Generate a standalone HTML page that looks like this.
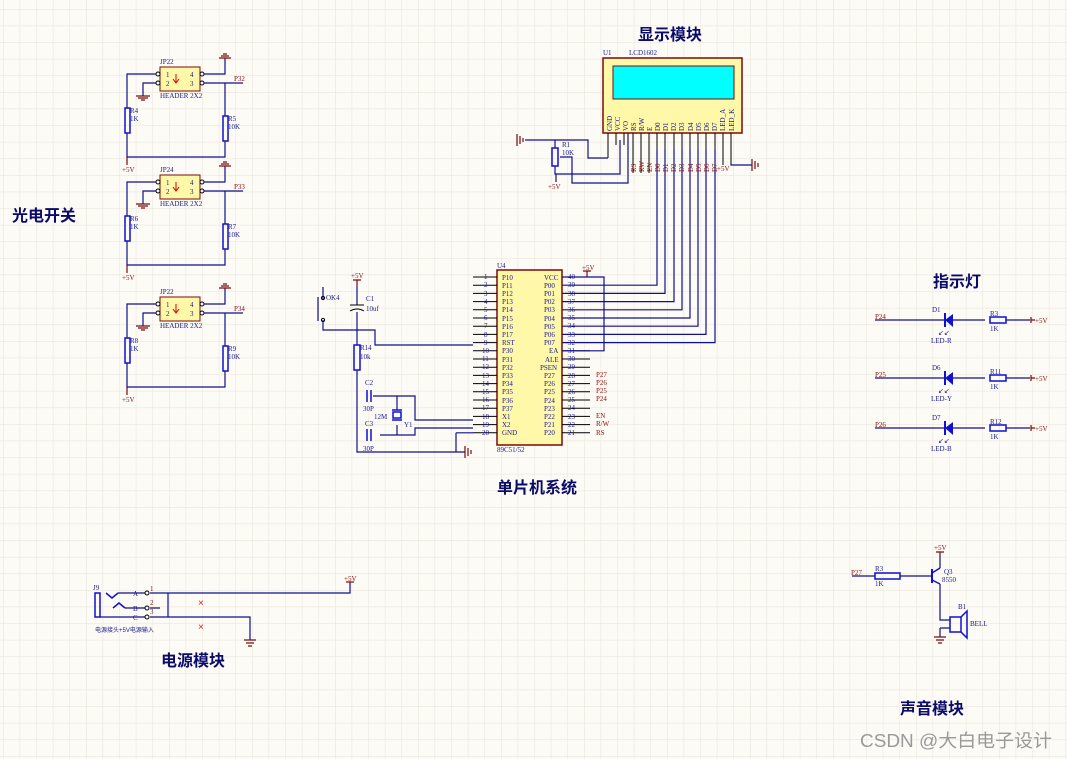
<!DOCTYPE html>
<html><head><meta charset="utf-8"><style>
html,body{margin:0;padding:0;background:#fdfbf6;}
svg{display:block}
.t{font-family:"Liberation Serif",serif;font-size:7px;fill:#1a1a8a}
.r{font-family:"Liberation Serif",serif;font-size:7px;fill:#8a1010}
.h{font-family:"Liberation Sans","Noto Sans CJK SC",sans-serif;font-size:16px;font-weight:bold;fill:#0a0a6a}
.w{stroke:#10108c;stroke-width:1.2;fill:none}
.k{stroke:#000;stroke-width:1;fill:none}
.g{stroke:#7a0a0a;stroke-width:1.2;fill:none}
.b{stroke:#1010d0;stroke-width:1.5;fill:none}
</style></head><body>
<svg width="1067" height="759" xmlns="http://www.w3.org/2000/svg">
<defs><pattern id="grid" x="3" y="9" width="16.6" height="16.6" patternUnits="userSpaceOnUse"><path d="M0 0H16.6M0 0V16.6" stroke="#e9e6dc" stroke-width="1.2"/></pattern>
<g id="blk">
<rect x="160" y="67" width="40" height="24" fill="#fff8a8" stroke="#7a0a0a"/>
<text class="t" x="166" y="77">1</text><text class="t" x="166" y="86">2</text>
<text class="t" x="190" y="77">4</text><text class="t" x="190" y="86">3</text>
<path d="M176 74v8M173 79l3 4 3-4" stroke="#d00" fill="none"/>
<circle cx="158" cy="74" r="2" class="k"/><circle cx="158" cy="83" r="2" class="k"/>
<circle cx="202" cy="74" r="2" class="k"/><circle cx="202" cy="83" r="2" class="k"/>
<text class="t" x="160" y="98">HEADER 2X2</text>
<path class="w" d="M156 74H127V108M127 133V157H225V141M225 116V83H204M204 74H225V58M156 83H143V96M225 83H243"/>
<path class="g" d="M136 96h14M138 98h10M141 100h4M219 58h12M221 56h8M223 54h4"/>
<rect x="125" y="108" width="5" height="25" class="b"/>
<rect x="223" y="116" width="5" height="25" class="b"/>
<path class="g" d="M127 157v8"/><text class="r" x="122" y="172">+5V</text>
</g>
</defs>
<rect width="1067" height="759" fill="#fdfbf6"/>
<rect width="1067" height="759" fill="url(#grid)"/>

<text class="h" x="638" y="40">显示模块</text>
<text class="h" x="12" y="221">光电开关</text>
<text class="h" x="933" y="287">指示灯</text>
<text class="h" x="497" y="493">单片机系统</text>
<text class="h" x="161" y="666">电源模块</text>
<text class="h" x="900" y="714">声音模块</text>
<text x="860" y="747" textLength="192" lengthAdjust="spacingAndGlyphs" style="font-family:'Liberation Sans','Noto Sans CJK SC',sans-serif;font-size:18px;fill:#9a9a9a">CSDN @大白电子设计</text>

<use href="#blk"/>
<use href="#blk" y="108"/>
<use href="#blk" y="230"/>
<text class="t" x="160" y="64">JP22</text>
<text class="t" x="130" y="113">R4</text><text class="t" x="130" y="121">1K</text>
<text class="t" x="228" y="121">R5</text><text class="t" x="228" y="129">10K</text>
<text class="r" x="234" y="81">P32</text>
<text class="t" x="160" y="172">JP24</text>
<text class="t" x="130" y="221">R6</text><text class="t" x="130" y="229">1K</text>
<text class="t" x="228" y="229">R7</text><text class="t" x="228" y="237">10K</text>
<text class="r" x="234" y="189">P33</text>
<text class="t" x="160" y="294">JP22</text>
<text class="t" x="130" y="343">R8</text><text class="t" x="130" y="351">1K</text>
<text class="t" x="228" y="351">R9</text><text class="t" x="228" y="359">10K</text>
<text class="r" x="234" y="311">P34</text>

<rect x="603" y="58" width="139" height="75" fill="#fff8a8" stroke="#7a0a0a" stroke-width="1.5"/>
<rect x="613" y="66" width="121" height="33" fill="#00ffff" stroke="#7a0a0a"/>
<text class="t" x="603" y="55">U1</text><text class="t" x="629" y="55">LCD1602</text>
<g class="t" font-size="6">
<text transform="translate(612,131) rotate(-90)">GND</text><text transform="translate(620,131) rotate(-90)">VCC</text>
<text transform="translate(628,131) rotate(-90)">VO</text><text transform="translate(636,131) rotate(-90)">RS</text>
<text transform="translate(644,131) rotate(-90)">R/W</text><text transform="translate(652,131) rotate(-90)">E</text>
<text transform="translate(660,131) rotate(-90)">D0</text><text transform="translate(668,131) rotate(-90)">D1</text>
<text transform="translate(676,131) rotate(-90)">D2</text><text transform="translate(684,131) rotate(-90)">D3</text>
<text transform="translate(693,131) rotate(-90)">D4</text><text transform="translate(701,131) rotate(-90)">D5</text>
<text transform="translate(709,131) rotate(-90)">D6</text><text transform="translate(717,131) rotate(-90)">D7</text>
<text transform="translate(725,131) rotate(-90)">LED_A</text><text transform="translate(734,131) rotate(-90)">LED_K</text>
</g>
<path class="k" d="M608 133v25M616 133v12M624 133v12M633 133v40M641 133v40M649 133v40M657 133v17M665 133v17M674 133v17M682 133v17M690 133v17M698 133v17M706 133v17M715 133v17M723 133v32M731 133v30"/>
<path class="w" d="M657 150V285.2H562M665 150V293.4H562M674 150V301.6H562M682 150V309.8H562M690 150V318H562M698 150V326.2H562M706 150V334.4H562M715 150V342.6H562"/>
<g class="r" font-size="6">
<text transform="translate(636,172) rotate(-90)">RS</text><text transform="translate(644,172) rotate(-90)">RW</text><text transform="translate(652,172) rotate(-90)">EN</text>
<text transform="translate(660,172) rotate(-90)">D0</text><text transform="translate(668,172) rotate(-90)">D1</text><text transform="translate(676,172) rotate(-90)">D2</text><text transform="translate(684,172) rotate(-90)">D3</text><text transform="translate(693,172) rotate(-90)">D4</text><text transform="translate(701,172) rotate(-90)">D5</text><text transform="translate(709,172) rotate(-90)">D6</text><text transform="translate(717,172) rotate(-90)">D7</text>
</g>
<text class="r" x="717" y="171">+5V</text>
<path class="w" d="M731 163V165H752"/>
<path class="g" d="M752 159v12M755 161v8M758 163v4M517 134v12M520 136v8M523 138v4"/>
<path class="w" d="M525 140H588V158H608M555 140V148M555 166V174H620V140M560 157H572V183H628V133M556 174v8"/>
<rect x="552" y="148" width="6" height="18" class="b"/>
<text class="t" x="562" y="147">R1</text><text class="t" x="562" y="155">10K</text>
<text class="r" x="548" y="189">+5V</text>

<rect x="497" y="270" width="65" height="175" fill="#fff8a8" stroke="#7a0a0a" stroke-width="1.5"/>
<text class="t" x="497" y="268">U4</text><text class="t" x="497" y="452">89C51/52</text>
<path class="k" d="M473 277h24M473 285.2h24M473 293.4h24M473 301.6h24M473 309.8h24M473 318h24M473 326.2h24M473 334.4h24M473 342.6h24M473 350.8h24M473 359h24M473 367.2h24M473 375.4h24M473 383.6h24M473 391.8h24M473 400h24M473 408.2h24M473 416.4h24M473 424.6h24M473 432.8h24
M562 277h28M562 350.8h28M562 359h28M562 367.2h28M562 375.4h28M562 383.6h28M562 391.8h28M562 400h28M562 408.2h28M562 416.4h28M562 424.6h28M562 432.8h28"/>
<g class="t">
<text x="484" y="279">1</text><text x="484" y="287">2</text><text x="484" y="296">3</text><text x="484" y="304">4</text><text x="484" y="312">5</text><text x="484" y="320">6</text><text x="484" y="328">7</text><text x="484" y="337">8</text><text x="484" y="345">9</text><text x="482" y="353">10</text><text x="482" y="361">11</text><text x="482" y="369">12</text><text x="482" y="378">13</text><text x="482" y="386">14</text><text x="482" y="394">15</text><text x="482" y="402">16</text><text x="482" y="410">17</text><text x="482" y="419">18</text><text x="482" y="427">19</text><text x="482" y="435">20</text>
<text x="502" y="280">P10</text><text x="502" y="288">P11</text><text x="502" y="296">P12</text><text x="502" y="304">P13</text><text x="502" y="312">P14</text><text x="502" y="321">P15</text><text x="502" y="329">P16</text><text x="502" y="337">P17</text><text x="502" y="345">RST</text><text x="502" y="353">P30</text><text x="502" y="362">P31</text><text x="502" y="370">P32</text><text x="502" y="378">P33</text><text x="502" y="386">P34</text><text x="502" y="394">P35</text><text x="502" y="403">P36</text><text x="502" y="411">P37</text><text x="502" y="419">X1</text><text x="502" y="427">X2</text><text x="502" y="435">GND</text>
<text x="544" y="280">VCC</text><text x="544" y="288">P00</text><text x="544" y="296">P01</text><text x="544" y="304">P02</text><text x="544" y="312">P03</text><text x="544" y="321">P04</text><text x="544" y="329">P05</text><text x="544" y="337">P06</text><text x="544" y="345">P07</text><text x="549" y="353">EA</text><text x="545" y="362">ALE</text><text x="540" y="370">PSEN</text><text x="544" y="378">P27</text><text x="544" y="386">P26</text><text x="544" y="394">P25</text><text x="544" y="403">P24</text><text x="544" y="411">P23</text><text x="544" y="419">P22</text><text x="544" y="427">P21</text><text x="544" y="435">P20</text>
<text x="568" y="279">40</text><text x="568" y="287">39</text><text x="568" y="296">38</text><text x="568" y="304">37</text><text x="568" y="312">36</text><text x="568" y="320">35</text><text x="568" y="328">34</text><text x="568" y="337">33</text><text x="568" y="345">32</text><text x="568" y="353">31</text><text x="568" y="361">30</text><text x="568" y="369">29</text><text x="568" y="378">28</text><text x="568" y="386">27</text><text x="568" y="394">26</text><text x="568" y="402">25</text><text x="568" y="410">24</text><text x="568" y="419">23</text><text x="568" y="427">22</text><text x="568" y="435">21</text>
</g>
<g class="r"><text x="596" y="377">P27</text><text x="596" y="385">P26</text><text x="596" y="393">P25</text><text x="596" y="401">P24</text><text x="596" y="418">EN</text><text x="596" y="426">R/W</text><text x="596" y="435">RS</text><text x="582" y="270">+5V</text></g>
<path class="g" d="M587 271v6M583 271h8"/>
<path class="w" d="M562 277H604V350.8H562"/>

<text class="r" x="351" y="278">+5V</text><path class="g" d="M357 280v6M353 280h8"/>
<path class="w" d="M357 286V305M357 312V345M357 370V452H465M323 287V300M323 320V330H375V345H473M370 396H415V420H473M380 396H397V410M397 425V435H415M380 435H415V428H473M456 432.8H473M456 432.8V452"/>
<path class="k" d="M350 305h14M350 311q7 -4 14 0"/>
<path class="w" d="M318 297v24" stroke-width="3"/>
<circle cx="323" cy="298" r="1.6" class="k"/><circle cx="323" cy="320" r="1.6" class="k"/>
<text class="t" x="326" y="300">OK4</text><text class="t" x="366" y="301">C1</text><text class="t" x="366" y="311">10uf</text>
<rect x="354" y="345" width="6" height="25" class="b"/>
<text class="t" x="360" y="350">R14</text><text class="t" x="360" y="359">10k</text>
<rect x="365" y="390" width="8" height="12" fill="#fdfbf6"/><path class="b" d="M367 390v12M371 390v12"/>
<rect x="365" y="429" width="8" height="12" fill="#fdfbf6"/><path class="b" d="M367 429v12M371 429v12"/>
<text class="t" x="365" y="385">C2</text><text class="t" x="363" y="411">30P</text>
<text class="t" x="365" y="426">C3</text><text class="t" x="363" y="451">30P</text>
<rect x="393" y="412" width="8" height="6" class="b"/><path class="b" d="M392 410h10M392 420h10"/>
<text class="t" x="374" y="419">12M</text><text class="t" x="404" y="427">Y1</text>
<path class="g" d="M465 446v12M468 448v8M471 450v4"/>

<g>
<path class="w" d="M875 320H945M953 320H985M1006 320H1030"/>
<path d="M953 314L953 327L945 320Z" fill="#1010d0"/><path d="M945 313v14" stroke="#1010d0" stroke-width="2"/>
<rect x="990" y="317" width="16" height="6" class="b"/>
<text class="r" x="875" y="319">P24</text><text class="t" x="932" y="312">D1</text><text class="t" x="931" y="343">LED-R</text><text class="t" x="938" y="335">↙↙</text>
<text class="t" x="990" y="316">R3</text><text class="t" x="990" y="331">1K</text>
<path class="g" d="M1031 317v6M1031 320h4"/><text class="r" x="1035" y="323">+5V</text>
</g>
<g transform="translate(0,58)">
<path class="w" d="M875 320H945M953 320H985M1006 320H1030"/>
<path d="M953 314L953 327L945 320Z" fill="#1010d0"/><path d="M945 313v14" stroke="#1010d0" stroke-width="2"/>
<rect x="990" y="317" width="16" height="6" class="b"/>
<text class="r" x="875" y="319">P25</text><text class="t" x="932" y="312">D6</text><text class="t" x="931" y="343">LED-Y</text><text class="t" x="938" y="335">↙↙</text>
<text class="t" x="990" y="316">R11</text><text class="t" x="990" y="331">1K</text>
<path class="g" d="M1031 317v6M1031 320h4"/><text class="r" x="1035" y="323">+5V</text>
</g>
<g transform="translate(0,108)">
<path class="w" d="M875 320H945M953 320H985M1006 320H1030"/>
<path d="M953 314L953 327L945 320Z" fill="#1010d0"/><path d="M945 313v14" stroke="#1010d0" stroke-width="2"/>
<rect x="990" y="317" width="16" height="6" class="b"/>
<text class="r" x="875" y="319">P26</text><text class="t" x="932" y="312">D7</text><text class="t" x="931" y="343">LED-B</text><text class="t" x="938" y="335">↙↙</text>
<text class="t" x="990" y="316">R12</text><text class="t" x="990" y="331">1K</text>
<path class="g" d="M1031 317v6M1031 320h4"/><text class="r" x="1035" y="323">+5V</text>
</g>

<path class="w" d="M852 576H875M900 576H932M940 568V555M940 584V620H950M940 628H950M940 628V637"/>
<rect x="875" y="573" width="25" height="6" class="b"/>
<path d="M932 569v14" stroke="#1010d0" stroke-width="2"/>
<path class="b" d="M932 573l8-5M932 580l8 4"/>
<rect x="950" y="617" width="11" height="15" class="b"/><path class="b" d="M961 617l6-6v27l-6-6"/>
<text class="r" x="851" y="575">P27</text><text class="t" x="875" y="571">R3</text><text class="t" x="875" y="586">1K</text>
<text class="t" x="944" y="574">Q3</text><text class="t" x="942" y="582">8550</text>
<text class="r" x="934" y="550">+5V</text><path class="g" d="M940 552v3M936 552h8"/>
<text class="t" x="958" y="609">B1</text><text class="t" x="970" y="626">BELL</text>
<path class="g" d="M934 637h12M936 640h8M938 643h4"/>

<rect x="95" y="593" width="5" height="24" class="b"/>
<text class="t" x="93" y="590" font-size="5">J9</text>
<path class="b" d="M106 593l6 5 6-5M113 608l6-5 6 5"/>
<path class="w" d="M118 593H145M125 608H145M100 617H145M150 593H350V582M150 617H250V640M168 593V617M150 608H160"/>
<circle cx="147" cy="593" r="2" class="k"/><circle cx="147" cy="608" r="2" class="k"/><circle cx="147" cy="617" r="2" class="k"/>
<text class="t" x="133" y="596" font-size="6">A</text><text class="t" x="133" y="611" font-size="6">B</text><text class="t" x="133" y="620" font-size="6">C</text>
<text class="r" x="150" y="591" font-size="6">1</text><text class="r" x="150" y="605" font-size="6">2</text><text class="r" x="150" y="614" font-size="6">3</text>
<text x="95" y="632" style="font-family:'Liberation Sans','Noto Sans CJK SC',sans-serif;font-size:6px;fill:#1a1a8a">电源接头+5V电源输入</text>
<text x="198" y="606" style="font-size:10px;fill:#e02020;font-family:'Liberation Sans',sans-serif">×</text>
<text x="198" y="630" style="font-size:10px;fill:#e02020;font-family:'Liberation Sans',sans-serif">×</text>
<text class="r" x="344" y="581">+5V</text><path class="g" d="M346 582h8"/>
<path class="g" d="M244 640h12M246 643h8M248 646h4"/>
</svg>
</body></html>
